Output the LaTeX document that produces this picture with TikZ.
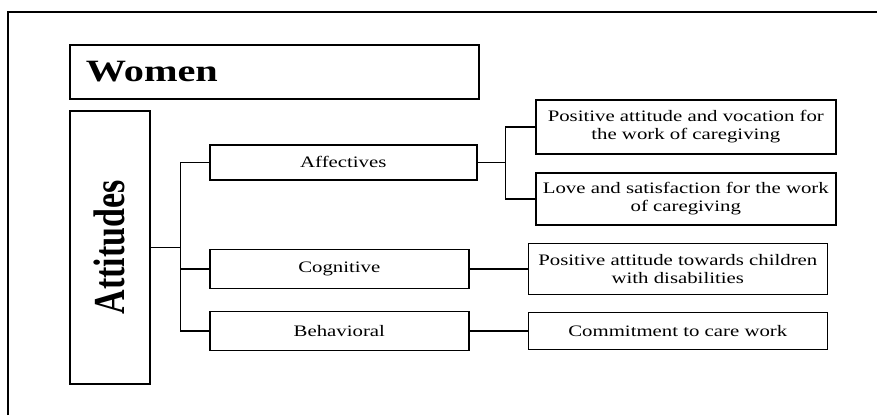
\documentclass[tikz,border=0pt]{standalone}
\usepackage{fontspec}
\usepackage{graphicx}
\setmainfont{Liberation Serif}[FakeStretch=1.3]
\newfontfamily\plainserif{Liberation Serif}

\begin{document}
\begin{tikzpicture}[x=1pt,y=-1pt,
  box/.style={draw, line width=1.6pt, anchor=north west, inner sep=2pt, align=center,
    font=\fontsize{16}{17.7}\selectfont},
  link/.style={draw, line width=1.6pt}]
\useasboundingbox (0,0) rectangle (877,415);
\path[draw,line width=1.2pt] (8,415) -- (8,12) -- (877,12);

\node[box, minimum width=409pt, minimum height=54pt, text width=377pt, inner xsep=16pt, align=left,
  font=\fontsize{31}{34}\selectfont\bfseries] (women) at (69,44) {Women};
\node[box, minimum width=80pt, minimum height=273pt, font=\fontsize{34}{38}\selectfont] (att) at (69,110)
  {\rotatebox{90}{\scalebox{1}[1.3]{\plainserif\bfseries Attitudes}}};

\node[box, minimum width=267pt, minimum height=35pt] (aff) at (209,144) {Affectives};
\node[box, minimum width=259pt, minimum height=39pt] (cog) at (209,248.5) {Cognitive};
\node[box, minimum width=259pt, minimum height=39pt] (beh) at (209,310.5) {Behavioral};

\node[box, minimum width=300pt, minimum height=54pt] (voc) at (535,99) {Positive attitude and vocation for\\the work of caregiving};
\node[box, minimum width=300pt, minimum height=52pt] (love) at (535,172) {Love and satisfaction for the work\\of caregiving};
\node[box, minimum width=299pt, minimum height=51pt] (kids) at (527.5,242.5) {Positive attitude towards children\\with disabilities};
\node[box, minimum width=299pt, minimum height=37pt] (care) at (527.5,311.5) {Commitment to care work};

\path[link] (att.east) -- ++(30,0) coordinate (hub);
\path[link] (aff.west) -| (hub) |- (beh.west);
\path[link] (cog.west) -- (cog.west -| hub);
\path[link] (aff.east) -- ++(28,0) coordinate (fork);
\path[link] (voc.west) -| (fork) |- (love.west);
\path[link] (cog.east) -- (kids.west);
\path[link] (beh.east) -- (care.west);
\end{tikzpicture}
\end{document}
